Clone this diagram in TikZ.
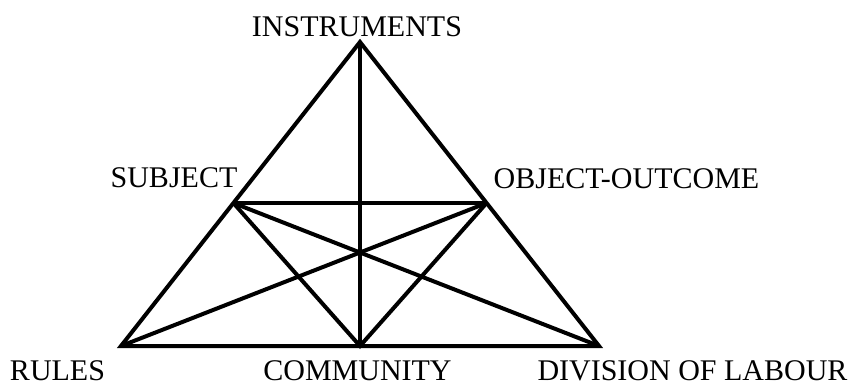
\documentclass[tikz,border=0pt]{standalone}
\usepackage{fontspec}
\setmainfont{Liberation Serif}
\begin{document}
\begin{tikzpicture}[x=1pt,y=-1pt,
  lbl/.style={font=\fontsize{30}{31}\selectfont, inner sep=0pt, anchor=base},
  edge/.style={line width=4pt, line join=miter}]
\useasboundingbox[fill=white] (0,0) rectangle (849,383);
\coordinate (I) at (360,42);
\coordinate (R) at (121,346);
\coordinate (D) at (599,346);
\coordinate (C) at (360,346);
\coordinate (S) at (233.4,203);
\coordinate (O) at (486.6,203);
\node[lbl] (tI) at (357,36) {INSTRUMENTS};
\node[lbl] (tS) at (174,187) {SUBJECT};
\node[lbl] (tO) at (626.5,188) {OBJECT-OUTCOME};
\node[lbl] (tR) at (57.5,380) {RULES};
\node[lbl] (tC) at (357.5,380) {COMMUNITY};
\node[lbl] (tD) at (692.5,380) {DIVISION OF LABOUR};
\draw[edge] (I) -- (R) -- (D) -- cycle;
\draw[edge] (I) -- (C);
\draw[edge] (S) -- (O);
\draw[edge] (S) -- (C) -- (O);
\draw[edge] (S) -- (D);
\draw[edge] (O) -- (R);
\end{tikzpicture}
\end{document}
